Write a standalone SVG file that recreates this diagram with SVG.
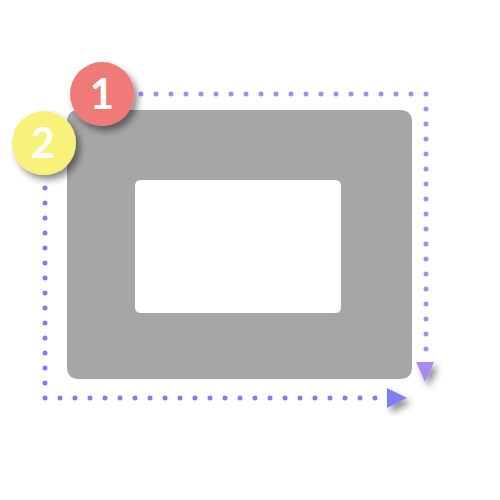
<svg xmlns="http://www.w3.org/2000/svg" width="500" height="500" viewBox="0 0 500 500">
<defs>
<filter id="sh" x="-30%" y="-30%" width="170%" height="170%">
<feDropShadow dx="4" dy="5" stdDeviation="3.5" flood-color="#000" flood-opacity="0.45"/>
</filter>
<style>
.dots{fill:none;stroke-width:5;stroke-linecap:round;stroke-dasharray:0 15}
.lbl{font-family:Lato,"Liberation Sans",Arial,sans-serif;font-size:42px;font-weight:bold;fill:#fff;text-anchor:middle}
</style>
</defs>
<rect width="500" height="500" fill="#fff"/>
<g id="frame">
<path fill="#a6a6a6" fill-rule="evenodd" d="M79,110 H400 Q412,110 412,122 V367 Q412,379 400,379 H79 Q67,379 67,367 V122 Q67,110 79,110 Z M141,180 H335 Q341,180 341,186 V307 Q341,313 335,313 H141 Q135,313 135,307 V186 Q135,180 141,180 Z"/>
</g>
<g id="connectors">
<path class="dots" stroke="#a68cf2" d="M141,94 H426 V352"/>
<polygon points="416,362 434,362 425,382" fill="#a68cf2" filter="url(#sh)"/>
<path class="dots" stroke="#7b7ff3" d="M45,188 V398 H377"/>
<polygon points="387,388 407,398 387,408" fill="#7b7ff3" filter="url(#sh)"/>
</g>
<g id="node1">
<circle cx="102" cy="94" r="32" fill="#f07a78" filter="url(#sh)"/>
<text class="lbl" x="102" y="109">1</text>
</g>
<g id="node2">
<circle cx="44" cy="143" r="32" fill="#f8f27a" filter="url(#sh)"/>
<text class="lbl" x="43" y="158">2</text>
</g>
</svg>
